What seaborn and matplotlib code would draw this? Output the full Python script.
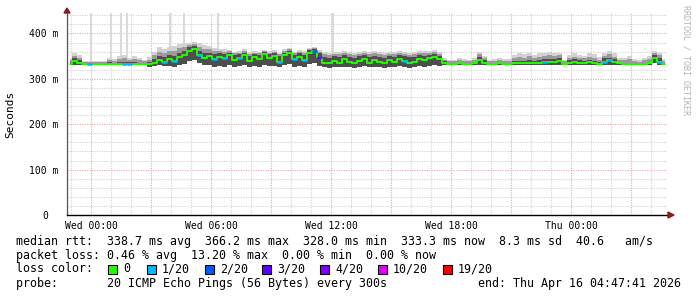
import numpy as np
import pandas as pd
import matplotlib
matplotlib.use("Agg")
import matplotlib.pyplot as plt
import seaborn as sns
from matplotlib.patches import Rectangle, Polygon
from matplotlib.transforms import ScaledTranslation

# ---------------- data ----------------
# 15-minute consolidated samples, hours relative to Wed 00:00 (start Tue 22:48)
start_hour = -1.2
step_hour = 0.25

median_ms = [
    333, 340, 335, 333, 332, 333, 332, 332, 333, 332,
    333, 333, 332, 333, 332, 333, 333, 336, 342, 338,
    343, 340, 348, 352, 362, 365, 352, 346, 350, 343,
    349, 346, 352, 341, 347, 352, 340, 348, 343, 354,
    345, 350, 338, 352, 356, 343, 349, 341, 358, 362,
    348, 336, 334, 340, 336, 343, 337, 334, 340, 344,
    336, 342, 338, 334, 341, 337, 343, 339, 335, 338,
    344, 341, 345, 348, 343, 335, 333, 333, 334, 333,
    333, 334, 341, 336, 333, 333, 334, 333, 333, 334,
    335, 334, 336, 334, 336, 337, 338, 337, 340, 333,
    336, 338, 336, 335, 337, 335, 333, 338, 341, 337,
    334, 333, 333, 333, 333, 333, 334, 345, 338, 333,
]

loss_of_20 = [
    0, 0, 0, 0, 1, 0, 0, 0, 0, 0,
    0, 1, 1, 0, 0, 0, 0, 0, 0, 1,
    0, 1, 0, 0, 0, 0, 1, 0, 0, 1,
    0, 1, 0, 0, 1, 0, 0, 0, 0, 0,
    0, 0, 1, 0, 0, 1, 0, 1, 0, 2,
    3, 0, 0, 0, 0, 0, 0, 0, 0, 0,
    0, 0, 0, 0, 0, 0, 0, 1, 0, 0,
    0, 0, 0, 0, 0, 0, 0, 0, 0, 0,
    0, 0, 0, 0, 0, 0, 0, 0, 0, 0,
    0, 0, 0, 0, 0, 1, 0, 0, 0, 0,
    0, 0, 0, 0, 0, 0, 0, 1, 1, 0,
    0, 0, 0, 0, 0, 0, 0, 0, 1, 0,
]

smoke_min = [
    330, 331, 331, 330, 330, 330, 330, 330, 330, 330,
    330, 330, 330, 330, 330, 330, 326, 328, 330, 328,
    328, 327, 330, 333, 340, 342, 334, 330, 330, 327,
    328, 327, 330, 326, 328, 330, 326, 328, 327, 330,
    328, 329, 326, 330, 332, 327, 328, 326, 333, 336,
    328, 326, 325, 327, 326, 327, 326, 325, 327, 328,
    326, 327, 326, 325, 327, 326, 328, 327, 325, 326,
    328, 327, 328, 330, 328, 330, 330, 330, 330, 330,
    330, 330, 331, 330, 330, 330, 330, 330, 330, 330,
    330, 330, 330, 330, 330, 330, 330, 330, 331, 330,
    330, 330, 330, 330, 330, 330, 330, 330, 331, 330,
    330, 330, 330, 330, 330, 330, 330, 334, 330, 330,
]

smoke_q3 = [
    337, 346, 342, 336, 336, 335, 335, 335, 337, 336,
    338, 338, 337, 338, 336, 336, 337, 344, 350, 348,
    352, 350, 358, 362, 370, 372, 362, 356, 358, 354,
    356, 355, 358, 352, 355, 358, 351, 355, 352, 360,
    354, 357, 350, 358, 362, 353, 356, 352, 364, 366,
    356, 348, 347, 350, 349, 352, 349, 347, 350, 352,
    348, 351, 349, 347, 350, 349, 352, 350, 348, 349,
    352, 351, 353, 354, 350, 339, 336, 336, 337, 336,
    336, 338, 348, 342, 336, 336, 337, 336, 336, 339,
    340, 340, 342, 340, 342, 343, 344, 343, 346, 336,
    341, 343, 341, 340, 342, 340, 337, 345, 347, 343,
    336, 336, 336, 335, 335, 336, 338, 352, 346, 336,
]

smoke_p90 = [
    341, 351, 347, 338, 338, 337, 337, 337, 341, 340,
    344, 345, 341, 344, 341, 339, 342, 352, 360, 357,
    361, 361, 367, 370, 375, 377, 370, 365, 365, 361,
    361, 360, 361, 356, 358, 362, 355, 358, 356, 362,
    358, 360, 354, 362, 365, 356, 360, 357, 366, 368,
    360, 354, 352, 355, 354, 357, 354, 352, 355, 357,
    354, 356, 354, 352, 355, 354, 357, 355, 353, 354,
    357, 356, 358, 359, 355, 342, 339, 339, 341, 340,
    339, 342, 354, 346, 339, 340, 341, 340, 340, 345,
    348, 347, 350, 346, 349, 350, 352, 350, 352, 339,
    346, 349, 346, 345, 349, 347, 342, 351, 354, 349,
    341, 341, 343, 339, 338, 341, 344, 357, 352, 340,
]

smoke_max = [
    345, 357, 352, 340, 340, 339, 340, 340, 346, 344,
    350, 352, 346, 350, 346, 342, 348, 360, 370, 366,
    370, 372, 376, 378, 380, 382, 378, 374, 372, 368,
    366, 365, 364, 360, 362, 366, 360, 362, 360, 364,
    362, 364, 358, 366, 368, 360, 364, 362, 368, 370,
    364, 360, 358, 360, 360, 362, 360, 358, 360, 362,
    360, 361, 360, 358, 360, 360, 362, 360, 358, 360,
    362, 362, 362, 364, 360, 346, 342, 342, 346, 344,
    342, 346, 360, 350, 342, 344, 346, 344, 344, 352,
    356, 354, 358, 352, 356, 356, 360, 356, 358, 342,
    352, 356, 352, 350, 356, 354, 348, 358, 362, 356,
    346, 346, 350, 344, 342, 346, 350, 362, 358, 344,
]

# isolated ping outliers (hours, ms)
spike_hours = [0.0, 1.0, 1.5, 1.82, 3.95, 4.65, 6.35, 12.1]
spike_ms = [460, 460, 460, 460, 460, 460, 460, 460]

loss_levels = [0, 1, 2, 3, 4, 10, 19]
loss_labels = ["0", "1/20", "2/20", "3/20", "4/20", "10/20", "19/20"]
loss_colors = ["#26ff00", "#00b8ff", "#0059ff", "#5e00ff", "#7e00ff", "#dd00ff", "#ff0000"]

x_tick_hours = [0, 6, 12, 18, 24]
x_tick_labels = ["Wed 00:00", "Wed 06:00", "Wed 12:00", "Wed 18:00", "Thu 00:00"]
y_ticks = [0, 100, 200, 300, 400]
y_tick_labels = ["0", "100 m", "200 m", "300 m", "400 m"]

stats_lines = [
    "median rtt:  338.7 ms avg  366.2 ms max  328.0 ms min  333.3 ms now  8.3 ms sd  40.6   am/s",
    "packet loss: 0.46 % avg  13.20 % max  0.00 % min  0.00 % now",
]
probe_text = "probe:       20 ICMP Echo Pings (56 Bytes) every 300s"
end_text = "end: Thu Apr 16 04:47:41 2026"

# ---------------- figure ----------------
sns.set_style("white")
plt.rcParams["font.family"] = ["DejaVu Sans Mono"]

W, H = 697, 297
fig = plt.figure(figsize=(W / 100, H / 100), dpi=100)
x0_px, x1_px, ytop_px, ybot_px = 66.9, 667.0, 13.0, 215.0
ax = fig.add_axes([x0_px / W, 1 - ybot_px / H, (x1_px - x0_px) / W, (ybot_px - ytop_px) / H])

n = len(median_ms)
hours = start_hour + step_hour * (np.arange(n) + 0.5)
df = pd.DataFrame({"hour": hours, "median": median_ms, "loss": loss_of_20,
                   "lo": smoke_min, "q3": smoke_q3, "p90": smoke_p90, "hi": smoke_max})

xmin, xmax = -1.205, 28.795
ymin, ymax = 0, 445.1
ax.set_xlim(xmin, xmax)
ax.set_ylim(ymin, ymax)

# grid
for h in np.arange(-1, 29, 1):
    col = "#e4a9a9" if h % 3 == 0 else "#d2d2d2"
    ax.axvline(h, color=col, lw=0.8, ls=(0, (1, 1.2)), zorder=0)
for v in np.arange(20, 445, 20):
    col = "#e4a9a9" if v % 100 == 0 else "#d2d2d2"
    ax.axhline(v, color=col, lw=0.8, ls=(0, (1, 1.2)), zorder=0)

# smoke
ax.vlines(spike_hours, [340] * len(spike_hours), spike_ms, color="#dadada", lw=1.4, zorder=1)
ax.fill_between(df["hour"], df["lo"], df["hi"], step="mid", color="#d2d2d2", lw=0, zorder=2)
ax.fill_between(df["hour"], df["lo"], df["p90"], step="mid", color="#9a9a9a", lw=0, zorder=3)
ax.fill_between(df["hour"], df["lo"], df["q3"], step="mid", color="#4e4e4e", lw=0, zorder=4)

# median line (green = no loss)
sns.lineplot(data=df, x="hour", y="median", ax=ax, color=loss_colors[0], lw=1.35,
             drawstyle="steps-mid", zorder=5, legend=False)
# loss-coloured segments
lossy = df[df["loss"] > 0]
seg_cols = [loss_colors[max(i for i, lv in enumerate(loss_levels) if lv <= l)] for l in lossy["loss"]]
ax.hlines(lossy["median"], lossy["hour"] - step_hour / 2, lossy["hour"] + step_hour / 2,
          colors=seg_cols, lw=1.8, zorder=6)

# axes styling
for s in ["top", "right"]:
    ax.spines[s].set_visible(False)
ax.spines["left"].set_color("#555555")
ax.spines["left"].set_linewidth(0.9)
ax.spines["bottom"].set_color("#000000")
ax.spines["bottom"].set_linewidth(1.0)

ax.set_xticks(x_tick_hours)
ax.set_xticklabels(x_tick_labels)
ax.set_xticks(np.arange(-1, 29, 1), minor=True)
ax.set_yticks(y_ticks)
ax.set_yticklabels(y_tick_labels)
ax.set_yticks(np.arange(20, 445, 20), minor=True)
ax.tick_params(axis="both", which="major", labelsize=7, length=2.2, width=0.8,
               color="#c05050", direction="out", labelcolor="#000000")
ax.tick_params(axis="both", which="minor", length=1.5, width=0.6, color="#909090", direction="out")
ax.tick_params(axis="x", which="major", pad=2.0)
ax.tick_params(axis="y", which="major", pad=3.8)
ax.set_xlabel("")
ax.set_ylabel("")

# shift "0" label like rrdtool
for lab in ax.get_yticklabels():
    if lab.get_text() == "0":
        lab.set_transform(lab.get_transform() + ScaledTranslation(-10 / 100, 0, fig.dpi_scale_trans))

# arrows
fig.patches.append(Polygon([[64 / W, 1 - 13 / H], [70 / W, 1 - 13 / H], [67 / W, 1 - 8 / H]],
                           closed=True, transform=fig.transFigure, color="#8b1a1a", zorder=10))
fig.patches.append(Polygon([[668 / W, 1 - 212 / H], [668 / W, 1 - 218 / H], [674 / W, 1 - 215 / H]],
                           closed=True, transform=fig.transFigure, color="#8b1a1a", zorder=10))

# texts
fig.text(10 / W, 1 - 114 / H, "Seconds", rotation=90, ha="center", va="center", fontsize=8, color="#000000")
fig.text(686 / W, 1 - 60 / H, "RRDTOOL / TOBI OETIKER", rotation=270, ha="center", va="center",
         fontsize=6, color="#b4b4b4")

fs = 8.4
for i, line in enumerate(stats_lines):
    fig.text(16 / W, 1 - (241 + 14 * i) / H, line, ha="left", va="center", fontsize=fs, color="#000000")
fig.text(16 / W, 1 - 269 / H, "loss color:", ha="left", va="center", fontsize=fs, color="#000000")
box_x = [108, 147, 205, 262, 320, 378, 443]
for bx, lab, col in zip(box_x, loss_labels, loss_colors):
    fig.patches.append(Rectangle((bx / W, 1 - 273.5 / H), 8.5 / W, 8.5 / H, transform=fig.transFigure,
                                 facecolor=col, edgecolor="#000000", lw=0.8))
    fig.text((bx + 15) / W, 1 - 269 / H, lab, ha="left", va="center", fontsize=fs, color="#000000")
fig.text(16 / W, 1 - 283 / H, probe_text, ha="left", va="center", fontsize=fs, color="#000000")
fig.text(478 / W, 1 - 283 / H, end_text, ha="left", va="center", fontsize=fs, color="#000000")

fig.savefig("out.png", dpi=100)
